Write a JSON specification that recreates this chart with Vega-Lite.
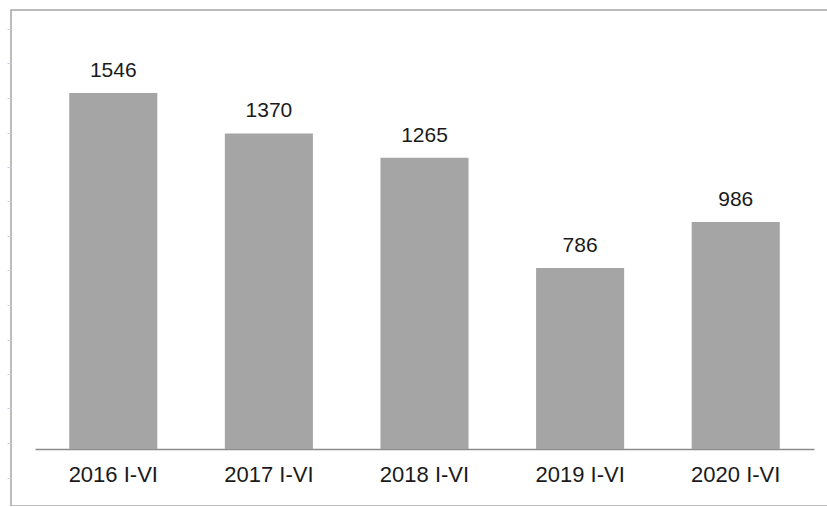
{
  "$schema": "https://vega.github.io/schema/vega-lite/v6.json",
  "autosize": "none",
  "padding": {"left": 11, "top": 10, "right": 0, "bottom": 0},
  "width": 820,
  "height": 496,
  "background": "white",
  "config": {
    "view": {"stroke": "#a6a6a6", "strokeWidth": 1.5},
    "font": "Liberation Sans"
  },
  "data": {
    "values": [
      {"period": "2016 I-VI", "value": 1546},
      {"period": "2017 I-VI", "value": 1370},
      {"period": "2018 I-VI", "value": 1265},
      {"period": "2019 I-VI", "value": 786},
      {"period": "2020 I-VI", "value": 986}
    ]
  },
  "encoding": {
    "x": {
      "field": "period",
      "type": "nominal",
      "sort": null,
      "scale": {"range": [24, 803], "paddingInner": 0.434, "paddingOuter": 0.22},
      "axis": {
        "title": null,
        "orient": "bottom",
        "offset": -57,
        "labelAngle": 0,
        "labelFontSize": 22,
        "labelColor": "#1a1a1a",
        "labelPadding": 15,
        "ticks": false,
        "domainColor": "#8c8c8c",
        "domainWidth": 1.5,
        "grid": false
      }
    },
    "y": {
      "field": "value",
      "type": "quantitative",
      "scale": {"domain": [-247.5, 1906], "nice": false, "zero": false},
      "axis": {
        "title": null,
        "labels": false,
        "domain": false,
        "grid": false,
        "ticks": true,
        "tickSize": 4,
        "tickColor": "#c9d0e0",
        "tickWidth": 1,
        "values": [1824, 1674, 1524, 1374, 1224, 1075, 925, 775, 625, 475, 325, 176, 26, -124]
      }
    }
  },
  "layer": [
    {
      "mark": {"type": "bar", "color": "#a5a5a5"},
      "encoding": {"y2": {"datum": 0}}
    },
    {
      "mark": {"type": "text", "baseline": "alphabetic", "dy": -16, "fontSize": 21, "color": "#1a1a1a"},
      "encoding": {"text": {"field": "value", "type": "quantitative", "format": "d"}}
    }
  ]
}
